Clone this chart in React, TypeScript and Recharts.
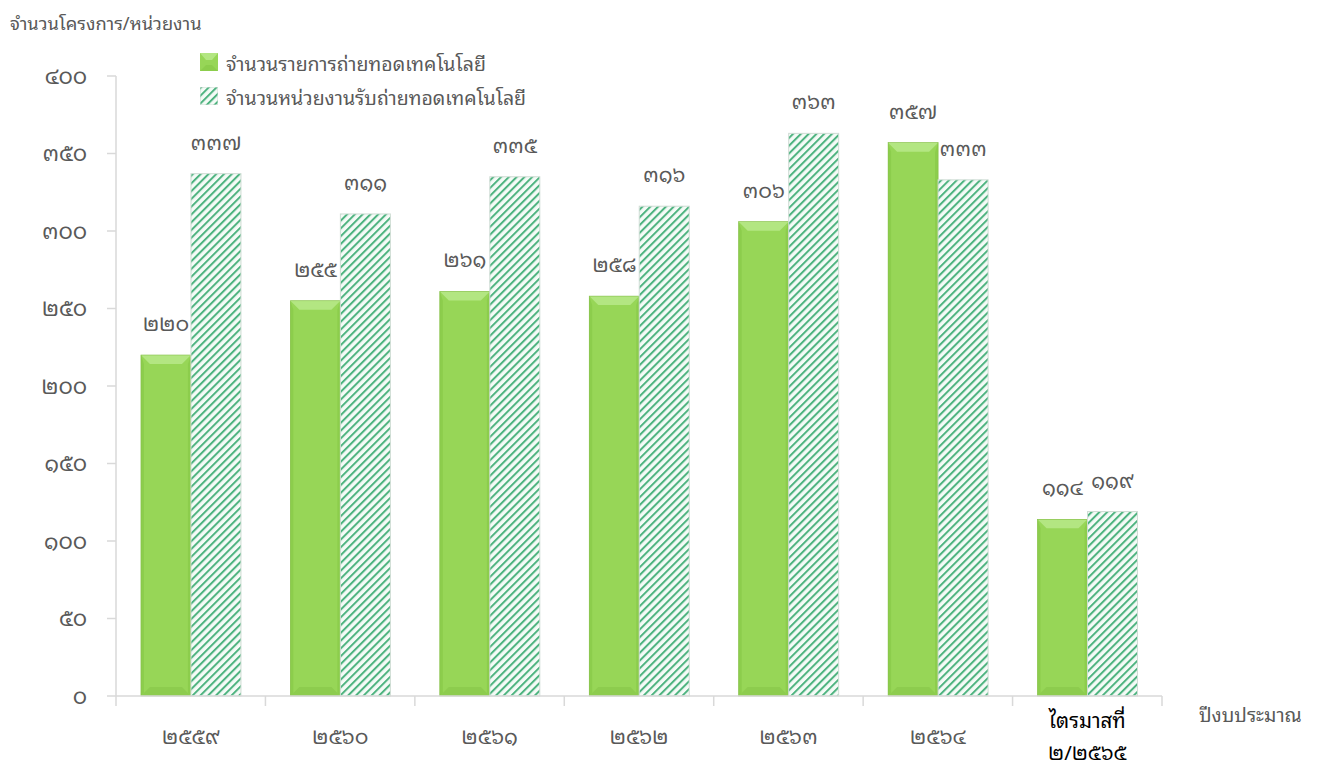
import React from 'react';
import { BarChart, Bar, XAxis, YAxis, Legend, LabelList } from 'recharts';

const categories = ['๒๕๕๙', '๒๕๖๐', '๒๕๖๑', '๒๕๖๒', '๒๕๖๓', '๒๕๖๔', 'ไตรมาสที่\n๒/๒๕๖๕'];
const transferItems = [220, 255, 261, 258, 306, 357, 114];
const receivingAgencies = [337, 311, 335, 316, 363, 333, 119];
const yTicks = [0, 50, 100, 150, 200, 250, 300, 350, 400];
const seriesNames = ['จำนวนรายการถ่ายทอดเทคโนโลยี', 'จำนวนหน่วยงานรับถ่ายทอดเทคโนโลยี'];
const yAxisTitle = 'จำนวนโครงการ/หน่วยงาน';
const xAxisTitle = 'ปีงบประมาณ';

const data = categories.map((c, i) => ({ name: c, a: transferItems[i], b: receivingAgencies[i] }));

const THAI_DIGITS = ['๐', '๑', '๒', '๓', '๔', '๕', '๖', '๗', '๘', '๙'];
const toThai = (v: number | string) => String(v).replace(/[0-9]/g, (d) => THAI_DIGITS[Number(d)]);

const FONT = '"Noto Sans Thai Looped", "Garuda", "Loma", "Kinnari", Tahoma, "DejaVu Sans", sans-serif';
const TEXT = '#595959';

const GreenBar = (props: any) => {
  const { x, y, width, height } = props;
  if (!height || height <= 0) return null;
  const t = Math.min(9, height / 3);
  const s = 3;
  return (
    <g>
      <rect x={x} y={y} width={width} height={height} fill="#97d657" />
      <polygon points={`${x},${y} ${x + width},${y} ${x + width - t},${y + t} ${x + t},${y + t}`} fill="#b3e682" />
      <polygon points={`${x},${y} ${x + s},${y + t} ${x + s},${y + height - s} ${x},${y + height}`} fill="#8ccd4c" />
      <polygon points={`${x + width},${y} ${x + width - s},${y + t} ${x + width - s},${y + height - s} ${x + width},${y + height}`} fill="#8ccd4c" />
      <polygon points={`${x},${y + height} ${x + t},${y + height - t} ${x + width - t},${y + height - t} ${x + width},${y + height}`} fill="#8dcc4e" />
      <rect x={x} y={y} width={width} height={height} fill="none" stroke="#86bf4a" strokeWidth={0.6} />
    </g>
  );
};

const HatchBar = (props: any) => {
  const { x, y, width, height } = props;
  if (!height || height <= 0) return null;
  return (
    <g>
      <rect x={x} y={y} width={width} height={height} fill="url(#hatch)" />
      <rect x={x} y={y} width={width} height={height} fill="none" stroke="#cfdcd4" strokeWidth={1} />
    </g>
  );
};

const XTick = (props: any) => {
  const { x, y, payload, index, width, visibleTicksCount } = props;
  const half = payload && payload.offset ? payload.offset : width / (visibleTicksCount || 7) / 2;
  const lines = String(payload.value).split('\n');
  const isLast = index === (visibleTicksCount || 7) - 1;
  return (
    <g>
      <line x1={x - half} y1={y - 8} x2={x - half} y2={y + 2} stroke="#d9d9d9" strokeWidth={1.5} />
      {isLast && <line x1={x + half} y1={y - 8} x2={x + half} y2={y + 2} stroke="#d9d9d9" strokeWidth={1.5} />}
      {lines.length === 1 ? (
        <text x={x} y={y + 40} textAnchor="middle" fontSize={21} fill={TEXT} fontFamily={FONT}>{lines[0]}</text>
      ) : (
        <g>
          <text x={x} y={y + 24} textAnchor="middle" fontSize={20.5} fill="#000" fontFamily={FONT}>{lines[0]}</text>
          <text x={x} y={y + 56} textAnchor="middle" fontSize={20.5} fill="#000" fontFamily={FONT}>{lines[1]}</text>
        </g>
      )}
    </g>
  );
};

const LegendContent = () => (
  <div style={{ fontFamily: FONT, fontSize: 19.5, color: TEXT }}>
    <div style={{ display: 'flex', alignItems: 'center', height: 34 }}>
      <svg width={18} height={18} style={{ marginRight: 8 }}>
        <rect x={0} y={0} width={18} height={18} fill="#97d657" />
        <polygon points="0,0 18,0 12,7 6,7" fill="#b3e682" />
        <polygon points="0,18 6,12 12,12 18,18" fill="#8ccd4c" />
      </svg>
      {seriesNames[0]}
    </div>
    <div style={{ display: 'flex', alignItems: 'center', height: 34 }}>
      <svg width={18} height={18} style={{ marginRight: 8 }}>
        <rect x={0} y={0} width={18} height={18} fill="url(#hatch)" />
        <rect x={0} y={0} width={18} height={18} fill="none" stroke="#cfdcd4" />
      </svg>
      {seriesNames[1]}
    </div>
  </div>
);

export default function App() {
  return (
    <div style={{ position: 'absolute', left: 0, top: 0, width: 1319, height: 771, background: '#fff', overflow: 'hidden' }}>
      <div style={{ position: 'absolute', left: 10, top: 7, fontFamily: FONT, fontSize: 18.3, color: TEXT }}>{yAxisTitle}</div>
      <div style={{ position: 'absolute', left: 1199, top: 698, fontFamily: FONT, fontSize: 19.5, color: TEXT }}>{xAxisTitle}</div>
      <BarChart
        width={1319}
        height={771}
        data={data}
        margin={{ top: 76, right: 157, bottom: 15, left: 0 }}
        barCategoryGap="16.7%"
        barGap={0}
      >
        <defs>
          <pattern id="hatch" patternUnits="userSpaceOnUse" width={5.5} height={5.5} patternTransform="rotate(45)">
            <rect x={0} y={0} width={5.5} height={5.5} fill="#f5fbf7" />
            <rect x={0} y={0} width={2} height={5.5} fill="#4db37f" />
          </pattern>
        </defs>
        <XAxis
          dataKey="name"
          height={60}
          axisLine={{ stroke: '#d9d9d9', strokeWidth: 1.5 }}
          tickLine={false}
          tick={<XTick />}
          interval={0}
        />
        <YAxis
          width={116}
          domain={[0, 400]}
          ticks={yTicks}
          interval={0}
          axisLine={{ stroke: '#d9d9d9', strokeWidth: 1.5 }}
          tickLine={{ stroke: '#d9d9d9', strokeWidth: 1.5 }}
          tickSize={9}
          tickMargin={20}
          tickFormatter={(v: number) => toThai(v)}
          tick={{ fill: TEXT, fontSize: 22, fontFamily: FONT }}
        />
        <Legend
          layout="vertical"
          verticalAlign="middle"
          align="center"
          content={<LegendContent />}
          wrapperStyle={{ position: 'absolute', left: 200, top: 45, width: 520, height: 70 }}
        />
        <Bar dataKey="a" name={seriesNames[0]} shape={<GreenBar />} isAnimationActive={false}>
          <LabelList dataKey="a" position="top" offset={24} formatter={(v: any) => toThai(v)} fill={TEXT} fontSize={21} fontFamily={FONT} />
        </Bar>
        <Bar dataKey="b" name={seriesNames[1]} shape={<HatchBar />} isAnimationActive={false}>
          <LabelList dataKey="b" position="top" offset={24} formatter={(v: any) => toThai(v)} fill={TEXT} fontSize={21} fontFamily={FONT} />
        </Bar>
      </BarChart>
    </div>
  );
}
